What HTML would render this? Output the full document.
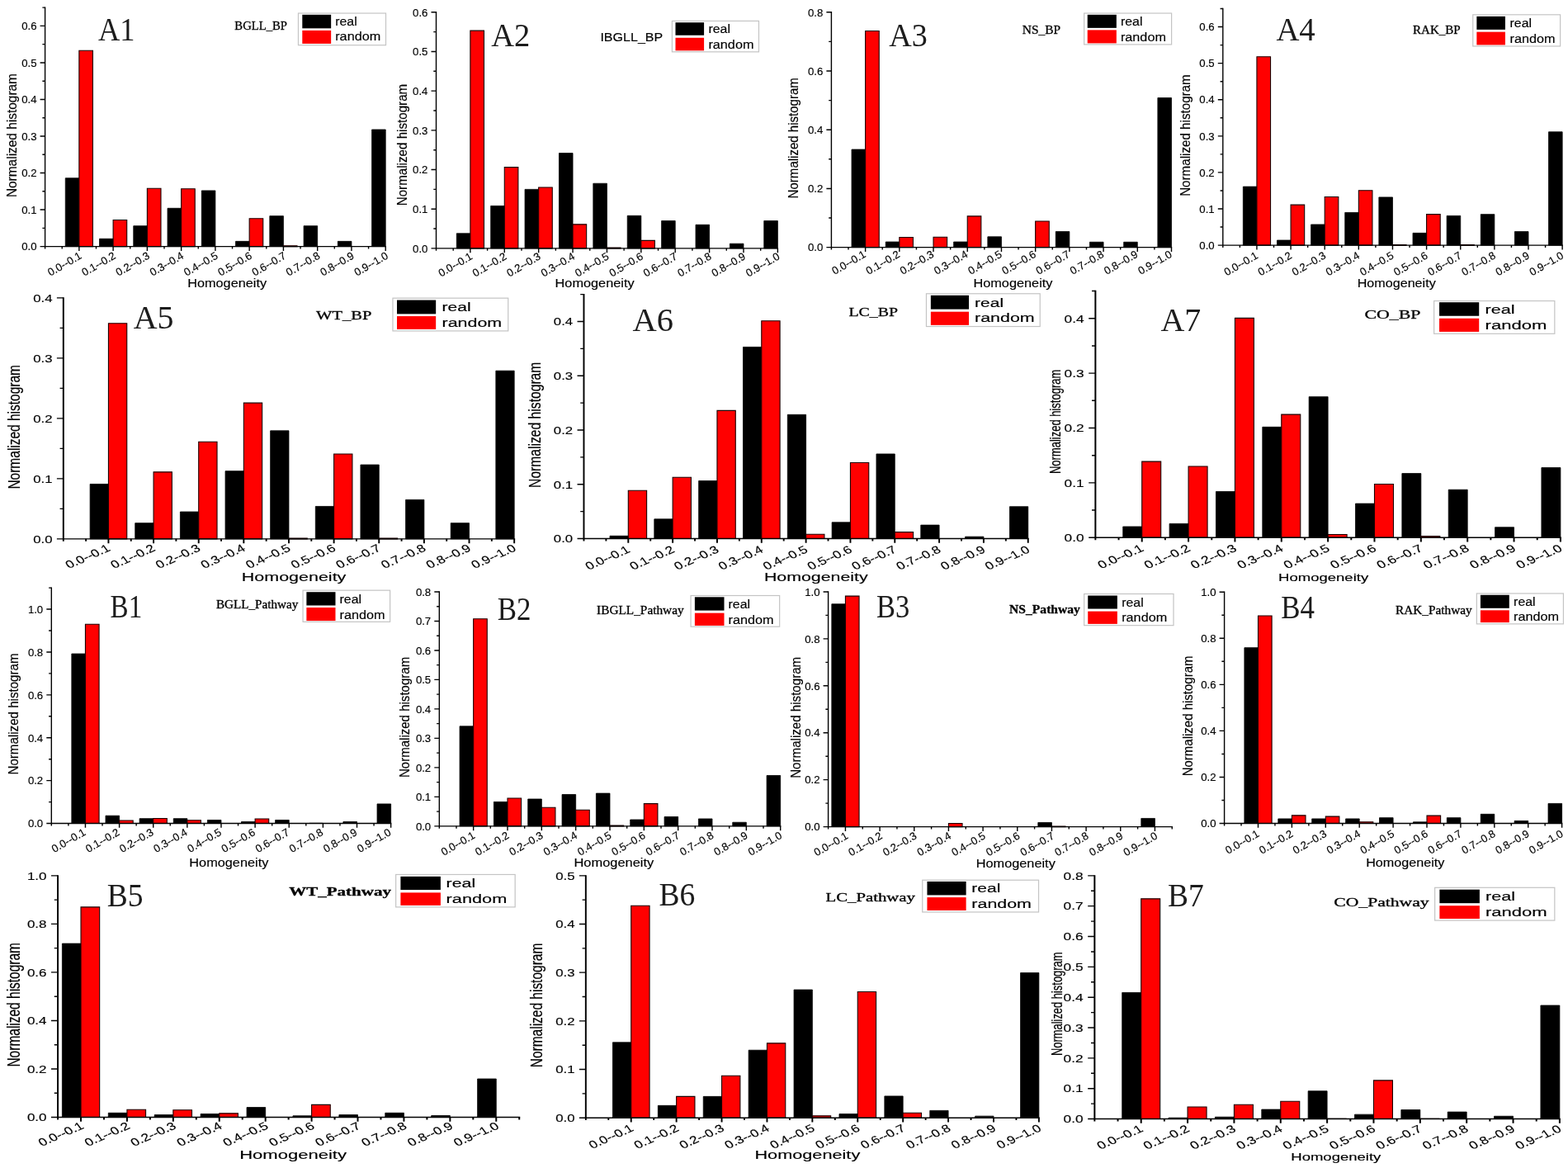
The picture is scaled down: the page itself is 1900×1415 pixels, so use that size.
<!DOCTYPE html>
<html lang="en">
<head>
<meta charset="utf-8">
<title>Normalized histograms of homogeneity</title>
<style>
html,body{margin:0;padding:0;background:#fff;}
body{width:1900px;height:1415px;overflow:hidden;}
svg{display:block;}
text{fill:#000;font-family:"Liberation Sans",sans-serif;stroke:#000;stroke-width:.15px;}
text.lb{stroke:none;fill:#1c1c1c;}
text.sf{font-family:"Liberation Serif",serif;}
text.tt{stroke:#000;stroke-width:0.3px;}
</style>
</head>
<body>
<svg width="1900" height="1415" viewBox="0 0 1900 1415">
<rect width="1900" height="1415" fill="#fff"/>
<g>
<path d="M79.26 298.6v-82.83h16.6v82.83zM120.52 298.6v-9.35h16.6v9.35zM161.78 298.6v-24.94h16.6v24.94zM203.04 298.6v-46.31h16.6v46.31zM244.3 298.6v-67.69h16.6v67.69zM285.56 298.6v-6.23h16.6v6.23zM326.82 298.6v-36.96h16.6v36.96zM368.08 298.6v-24.94h16.6v24.94zM409.34 298.6v-6.23h16.6v6.23zM450.6 298.6v-141.62h16.6v141.62z" fill="#000" stroke="#000" stroke-width="0.8"/>
<path d="M95.86 298.6v-237.36h16.6v237.36zM137.12 298.6v-32.06h16.6v32.06zM178.38 298.6v-70.36h16.6v70.36zM219.64 298.6v-69.92h16.6v69.92zM302.16 298.6v-33.85h16.6v33.85zM343.42 298.6v-0.89h16.6v0.89z" fill="#ff0000" stroke="#1a0000" stroke-width="1.1"/>
<path d="M53.9 298.6H467.9M54.6 298.6h-6M54.6 276.33h-3.2M54.6 254.07h-6M54.6 231.8h-3.2M54.6 209.53h-6M54.6 187.27h-3.2M54.6 165h-6M54.6 142.73h-3.2M54.6 120.47h-6M54.6 98.2h-3.2M54.6 75.93h-6M54.6 53.67h-3.2M54.6 31.4h-6M54.6 9.13h-3.2" fill="none" stroke="#000" stroke-width="1.4"/>
<path d="M54.6 8.43V298.6M54.6 298.6v2.9M75.23 298.6v2.9M95.86 298.6v5.3M116.49 298.6v2.9M137.12 298.6v5.3M157.75 298.6v2.9M178.38 298.6v5.3M199.01 298.6v2.9M219.64 298.6v5.3M240.27 298.6v2.9M260.9 298.6v5.3M281.53 298.6v2.9M302.16 298.6v5.3M322.79 298.6v2.9M343.42 298.6v5.3M364.05 298.6v2.9M384.68 298.6v5.3M405.31 298.6v2.9M425.94 298.6v5.3M446.57 298.6v2.9M467.2 298.6v5.3" fill="none" stroke="#000" stroke-width="1.4"/>
<text x="44.5" y="303.35" font-size="13.2" text-anchor="end">0.0</text>
<text x="44.5" y="258.82" font-size="13.2" text-anchor="end">0.1</text>
<text x="44.5" y="214.29" font-size="13.2" text-anchor="end">0.2</text>
<text x="44.5" y="169.75" font-size="13.2" text-anchor="end">0.3</text>
<text x="44.5" y="125.22" font-size="13.2" text-anchor="end">0.4</text>
<text x="44.5" y="80.69" font-size="13.2" text-anchor="end">0.5</text>
<text x="44.5" y="36.15" font-size="13.2" text-anchor="end">0.6</text>
<text transform="translate(99.86 312.4) scale(1.0 1) rotate(-30)" text-anchor="end" font-size="13">0.0--0.1</text>
<text transform="translate(141.12 312.4) scale(1.0 1) rotate(-30)" text-anchor="end" font-size="13">0.1--0.2</text>
<text transform="translate(182.38 312.4) scale(1.0 1) rotate(-30)" text-anchor="end" font-size="13">0.2--0.3</text>
<text transform="translate(223.64 312.4) scale(1.0 1) rotate(-30)" text-anchor="end" font-size="13">0.3--0.4</text>
<text transform="translate(264.9 312.4) scale(1.0 1) rotate(-30)" text-anchor="end" font-size="13">0.4--0.5</text>
<text transform="translate(306.16 312.4) scale(1.0 1) rotate(-30)" text-anchor="end" font-size="13">0.5--0.6</text>
<text transform="translate(347.42 312.4) scale(1.0 1) rotate(-30)" text-anchor="end" font-size="13">0.6--0.7</text>
<text transform="translate(388.68 312.4) scale(1.0 1) rotate(-30)" text-anchor="end" font-size="13">0.7--0.8</text>
<text transform="translate(429.94 312.4) scale(1.0 1) rotate(-30)" text-anchor="end" font-size="13">0.8--0.9</text>
<text transform="translate(471.2 312.4) scale(1.0 1) rotate(-30)" text-anchor="end" font-size="13">0.9--1.0</text>
<text transform="translate(19.7 164.07) scale(1.0 1) rotate(-90)" text-anchor="middle" textLength="150.08" lengthAdjust="spacingAndGlyphs" font-size="15.8">Normalized histogram</text>
<text x="227.27" y="347.73" font-size="14.77" textLength="95.77" lengthAdjust="spacingAndGlyphs">Homogeneity</text>
<rect x="361.46" y="16.03" width="106.07" height="38.66" fill="#fff" stroke="#c4c4c4" stroke-width="1.2"/>
<rect x="366.3" y="17.81" width="34.85" height="16.53" fill="#000"/>
<rect x="366.3" y="36.88" width="34.85" height="16.03" fill="#ff0000"/>
<text x="406.23" y="30.9" font-size="15.2" textLength="26.5" lengthAdjust="spacingAndGlyphs">real</text>
<text x="406.23" y="49.47" font-size="15.2" textLength="55" lengthAdjust="spacingAndGlyphs">random</text>
<text x="284.39" y="35.88" font-size="14.5" class="sf tt" textLength="63.59" lengthAdjust="spacingAndGlyphs">BGLL_BP</text>
<text x="118.9" y="49" font-size="41" class="sf lb" textLength="44.5" lengthAdjust="spacingAndGlyphs">A1</text>
</g>
<g>
<path d="M553.29 300.92v-18.12h16.6v18.12zM594.68 300.92v-51.51h16.6v51.51zM636.06 300.92v-71.54h16.6v71.54zM677.45 300.92v-115.42h16.6v115.42zM718.84 300.92v-78.7h16.6v78.7zM760.22 300.92v-39.59h16.6v39.59zM801.61 300.92v-33.39h16.6v33.39zM843 300.92v-28.62h16.6v28.62zM884.38 300.92v-5.72h16.6v5.72zM925.77 300.92v-33.39h16.6v33.39z" fill="#000" stroke="#000" stroke-width="0.8"/>
<path d="M569.89 300.92v-263.75h16.6v263.75zM611.28 300.92v-98.25h16.6v98.25zM652.66 300.92v-73.93h16.6v73.93zM694.05 300.92v-29.09h16.6v29.09zM735.44 300.92v-0.95h16.6v0.95zM776.82 300.92v-9.54h16.6v9.54z" fill="#ff0000" stroke="#1a0000" stroke-width="1.1"/>
<path d="M527.81 300.92H943.07M528.51 300.92h-6M528.51 277.07h-3.2M528.51 253.23h-6M528.51 229.38h-3.2M528.51 205.53h-6M528.51 181.69h-3.2M528.51 157.84h-6M528.51 133.99h-3.2M528.51 110.14h-6M528.51 86.3h-3.2M528.51 62.45h-6M528.51 38.6h-3.2M528.51 14.75h-6" fill="none" stroke="#000" stroke-width="1.4"/>
<path d="M528.51 14.05V300.92M528.51 300.92v2.9M549.2 300.92v2.9M569.89 300.92v5.3M590.59 300.92v2.9M611.28 300.92v5.3M631.97 300.92v2.9M652.66 300.92v5.3M673.36 300.92v2.9M694.05 300.92v5.3M714.74 300.92v2.9M735.44 300.92v5.3M756.13 300.92v2.9M776.82 300.92v5.3M797.52 300.92v2.9M818.21 300.92v5.3M838.9 300.92v2.9M859.6 300.92v5.3M880.29 300.92v2.9M900.98 300.92v5.3M921.68 300.92v2.9M942.37 300.92v5.3" fill="none" stroke="#000" stroke-width="1.4"/>
<text x="518.41" y="305.67" font-size="13.2" text-anchor="end">0.0</text>
<text x="518.41" y="257.98" font-size="13.2" text-anchor="end">0.1</text>
<text x="518.41" y="210.28" font-size="13.2" text-anchor="end">0.2</text>
<text x="518.41" y="162.59" font-size="13.2" text-anchor="end">0.3</text>
<text x="518.41" y="114.9" font-size="13.2" text-anchor="end">0.4</text>
<text x="518.41" y="67.2" font-size="13.2" text-anchor="end">0.5</text>
<text x="518.41" y="19.51" font-size="13.2" text-anchor="end">0.6</text>
<text transform="translate(573.29 313.22) scale(1.0 1) rotate(-30)" text-anchor="end" font-size="13">0.0--0.1</text>
<text transform="translate(614.68 313.22) scale(1.0 1) rotate(-30)" text-anchor="end" font-size="13">0.1--0.2</text>
<text transform="translate(656.06 313.22) scale(1.0 1) rotate(-30)" text-anchor="end" font-size="13">0.2--0.3</text>
<text transform="translate(697.45 313.22) scale(1.0 1) rotate(-30)" text-anchor="end" font-size="13">0.3--0.4</text>
<text transform="translate(738.84 313.22) scale(1.0 1) rotate(-30)" text-anchor="end" font-size="13">0.4--0.5</text>
<text transform="translate(780.22 313.22) scale(1.0 1) rotate(-30)" text-anchor="end" font-size="13">0.5--0.6</text>
<text transform="translate(821.61 313.22) scale(1.0 1) rotate(-30)" text-anchor="end" font-size="13">0.6--0.7</text>
<text transform="translate(863 313.22) scale(1.0 1) rotate(-30)" text-anchor="end" font-size="13">0.7--0.8</text>
<text transform="translate(904.38 313.22) scale(1.0 1) rotate(-30)" text-anchor="end" font-size="13">0.8--0.9</text>
<text transform="translate(945.77 313.22) scale(1.0 1) rotate(-30)" text-anchor="end" font-size="13">0.9--1.0</text>
<text transform="translate(493 175.52) scale(1.0 1) rotate(-90)" text-anchor="middle" textLength="147.54" lengthAdjust="spacingAndGlyphs" font-size="15.8">Normalized histogram</text>
<text x="672.6" y="347.72" font-size="14.77" textLength="96.03" lengthAdjust="spacingAndGlyphs">Homogeneity</text>
<rect x="814.42" y="25.44" width="105.06" height="37.39" fill="#fff" stroke="#c4c4c4" stroke-width="1.2"/>
<rect x="818.49" y="27.22" width="34.59" height="15.52" fill="#000"/>
<rect x="818.49" y="45.79" width="34.59" height="15.52" fill="#ff0000"/>
<text x="858.43" y="39.79" font-size="15.2" textLength="26.5" lengthAdjust="spacingAndGlyphs">real</text>
<text x="858.43" y="58.61" font-size="15.2" textLength="55" lengthAdjust="spacingAndGlyphs">random</text>
<text x="727.42" y="50.37" font-size="15.5" textLength="75.8" lengthAdjust="spacingAndGlyphs">IBGLL_BP</text>
<text x="595.15" y="55.85" font-size="41" class="sf lb" textLength="47.06" lengthAdjust="spacingAndGlyphs">A2</text>
</g>
<g>
<path d="M1032.02 299.65v-118.59h16.6v118.59zM1073.23 299.65v-6.62h16.6v6.62zM1155.64 299.65v-6.62h16.6v6.62zM1196.85 299.65v-12.82h16.6v12.82zM1279.27 299.65v-19.09h16.6v19.09zM1320.47 299.65v-6.41h16.6v6.41zM1361.68 299.65v-6.41h16.6v6.41zM1402.89 299.65v-181.12h16.6v181.12z" fill="#000" stroke="#000" stroke-width="0.8"/>
<path d="M1048.62 299.65v-262.1h16.6v262.1zM1089.83 299.65v-12.11h16.6v12.11zM1131.03 299.65v-12.46h16.6v12.46zM1172.24 299.65v-37.75h16.6v37.75zM1254.66 299.65v-31.69h16.6v31.69z" fill="#ff0000" stroke="#1a0000" stroke-width="1.1"/>
<path d="M1006.71 299.65H1420.19M1007.41 299.65h-6M1007.41 264.04h-3.2M1007.41 228.43h-6M1007.41 192.81h-3.2M1007.41 157.2h-6M1007.41 121.59h-3.2M1007.41 85.98h-6M1007.41 50.37h-3.2M1007.41 14.75h-6" fill="none" stroke="#000" stroke-width="1.4"/>
<path d="M1007.41 14.05V299.65M1007.41 299.65v2.9M1028.01 299.65v2.9M1048.62 299.65v5.3M1069.22 299.65v2.9M1089.83 299.65v5.3M1110.43 299.65v2.9M1131.03 299.65v5.3M1151.64 299.65v2.9M1172.24 299.65v5.3M1192.85 299.65v2.9M1213.45 299.65v5.3M1234.05 299.65v2.9M1254.66 299.65v5.3M1275.26 299.65v2.9M1295.87 299.65v5.3M1316.47 299.65v2.9M1337.07 299.65v5.3M1357.68 299.65v2.9M1378.28 299.65v5.3M1398.89 299.65v2.9M1419.49 299.65v5.3" fill="none" stroke="#000" stroke-width="1.4"/>
<text x="997.31" y="304.4" font-size="13.2" text-anchor="end">0.0</text>
<text x="997.31" y="233.18" font-size="13.2" text-anchor="end">0.2</text>
<text x="997.31" y="161.95" font-size="13.2" text-anchor="end">0.4</text>
<text x="997.31" y="90.73" font-size="13.2" text-anchor="end">0.6</text>
<text x="997.31" y="19.51" font-size="13.2" text-anchor="end">0.8</text>
<text transform="translate(1050.12 310.65) scale(1.0 1) rotate(-30)" text-anchor="end" font-size="13">0.0--0.1</text>
<text transform="translate(1091.33 310.65) scale(1.0 1) rotate(-30)" text-anchor="end" font-size="13">0.1--0.2</text>
<text transform="translate(1132.53 310.65) scale(1.0 1) rotate(-30)" text-anchor="end" font-size="13">0.2--0.3</text>
<text transform="translate(1173.74 310.65) scale(1.0 1) rotate(-30)" text-anchor="end" font-size="13">0.3--0.4</text>
<text transform="translate(1214.95 310.65) scale(1.0 1) rotate(-30)" text-anchor="end" font-size="13">0.4--0.5</text>
<text transform="translate(1256.16 310.65) scale(1.0 1) rotate(-30)" text-anchor="end" font-size="13">0.5--0.6</text>
<text transform="translate(1297.37 310.65) scale(1.0 1) rotate(-30)" text-anchor="end" font-size="13">0.6--0.7</text>
<text transform="translate(1338.57 310.65) scale(1.0 1) rotate(-30)" text-anchor="end" font-size="13">0.7--0.8</text>
<text transform="translate(1379.78 310.65) scale(1.0 1) rotate(-30)" text-anchor="end" font-size="13">0.8--0.9</text>
<text transform="translate(1420.99 310.65) scale(1.0 1) rotate(-30)" text-anchor="end" font-size="13">0.9--1.0</text>
<text transform="translate(967.32 167.25) scale(1.0 1) rotate(-90)" text-anchor="middle" textLength="146.26" lengthAdjust="spacingAndGlyphs" font-size="15.8">Normalized histogram</text>
<text x="1179.48" y="348.03" font-size="14.77" textLength="96.03" lengthAdjust="spacingAndGlyphs">Homogeneity</text>
<rect x="1313.67" y="16.03" width="105.93" height="37.9" fill="#fff" stroke="#c4c4c4" stroke-width="1.2"/>
<rect x="1317.74" y="17.81" width="35.1" height="16.03" fill="#000"/>
<rect x="1317.74" y="36.38" width="35.1" height="16.03" fill="#ff0000"/>
<text x="1357.93" y="30.83" font-size="15.2" textLength="26.5" lengthAdjust="spacingAndGlyphs">real</text>
<text x="1357.93" y="49.66" font-size="15.2" textLength="55" lengthAdjust="spacingAndGlyphs">random</text>
<text x="1238.89" y="41.46" font-size="14.5" class="sf tt" textLength="46.3" lengthAdjust="spacingAndGlyphs">NS_BP</text>
<text x="1077.36" y="56.22" font-size="41" class="sf lb" textLength="46.55" lengthAdjust="spacingAndGlyphs">A3</text>
</g>
<g>
<path d="M1506.34 297.11v-70.99h16.6v70.99zM1547.48 297.11v-6.08h16.6v6.08zM1588.61 297.11v-25.13h16.6v25.13zM1629.74 297.11v-39.68h16.6v39.68zM1670.87 297.11v-58.2h16.6v58.2zM1712 297.11v-14.77h16.6v14.77zM1753.14 297.11v-35.71h16.6v35.71zM1794.27 297.11v-37.48h16.6v37.48zM1835.4 297.11v-16.53h16.6v16.53zM1876.53 297.11v-137.34h16.6v137.34z" fill="#000" stroke="#000" stroke-width="0.8"/>
<path d="M1522.94 297.11v-228.39h16.6v228.39zM1564.08 297.11v-48.94h16.6v48.94zM1605.21 297.11v-58.64h16.6v58.64zM1646.34 297.11v-66.36h16.6v66.36zM1687.47 297.11v-0.44h16.6v0.44zM1728.6 297.11v-37.48h16.6v37.48zM1769.74 297.11v-0.44h16.6v0.44z" fill="#ff0000" stroke="#1a0000" stroke-width="1.1"/>
<path d="M1481.11 297.11H1893.83M1481.81 297.11h-6M1481.81 275.06h-3.2M1481.81 253.02h-6M1481.81 230.97h-3.2M1481.81 208.92h-6M1481.81 186.88h-3.2M1481.81 164.83h-6M1481.81 142.79h-3.2M1481.81 120.74h-6M1481.81 98.7h-3.2M1481.81 76.65h-6M1481.81 54.61h-3.2M1481.81 32.56h-6M1481.81 10.51h-3.2" fill="none" stroke="#000" stroke-width="1.4"/>
<path d="M1481.81 9.81V297.11M1481.81 297.11v2.9M1502.38 297.11v2.9M1522.94 297.11v5.3M1543.51 297.11v2.9M1564.08 297.11v5.3M1584.64 297.11v2.9M1605.21 297.11v5.3M1625.77 297.11v2.9M1646.34 297.11v5.3M1666.91 297.11v2.9M1687.47 297.11v5.3M1708.04 297.11v2.9M1728.6 297.11v5.3M1749.17 297.11v2.9M1769.74 297.11v5.3M1790.3 297.11v2.9M1810.87 297.11v5.3M1831.43 297.11v2.9M1852 297.11v5.3M1872.57 297.11v2.9M1893.13 297.11v5.3" fill="none" stroke="#000" stroke-width="1.4"/>
<text x="1471.71" y="301.86" font-size="13.2" text-anchor="end">0.0</text>
<text x="1471.71" y="257.77" font-size="13.2" text-anchor="end">0.1</text>
<text x="1471.71" y="213.68" font-size="13.2" text-anchor="end">0.2</text>
<text x="1471.71" y="169.59" font-size="13.2" text-anchor="end">0.3</text>
<text x="1471.71" y="125.49" font-size="13.2" text-anchor="end">0.4</text>
<text x="1471.71" y="81.4" font-size="13.2" text-anchor="end">0.5</text>
<text x="1471.71" y="37.31" font-size="13.2" text-anchor="end">0.6</text>
<text transform="translate(1525.24 312.21) scale(1.0 1) rotate(-30)" text-anchor="end" font-size="13">0.0--0.1</text>
<text transform="translate(1566.38 312.21) scale(1.0 1) rotate(-30)" text-anchor="end" font-size="13">0.1--0.2</text>
<text transform="translate(1607.51 312.21) scale(1.0 1) rotate(-30)" text-anchor="end" font-size="13">0.2--0.3</text>
<text transform="translate(1648.64 312.21) scale(1.0 1) rotate(-30)" text-anchor="end" font-size="13">0.3--0.4</text>
<text transform="translate(1689.77 312.21) scale(1.0 1) rotate(-30)" text-anchor="end" font-size="13">0.4--0.5</text>
<text transform="translate(1730.9 312.21) scale(1.0 1) rotate(-30)" text-anchor="end" font-size="13">0.5--0.6</text>
<text transform="translate(1772.04 312.21) scale(1.0 1) rotate(-30)" text-anchor="end" font-size="13">0.6--0.7</text>
<text transform="translate(1813.17 312.21) scale(1.0 1) rotate(-30)" text-anchor="end" font-size="13">0.7--0.8</text>
<text transform="translate(1854.3 312.21) scale(1.0 1) rotate(-30)" text-anchor="end" font-size="13">0.8--0.9</text>
<text transform="translate(1895.43 312.21) scale(1.0 1) rotate(-30)" text-anchor="end" font-size="13">0.9--1.0</text>
<text transform="translate(1442.23 164.07) scale(1.0 1) rotate(-90)" text-anchor="middle" textLength="147.54" lengthAdjust="spacingAndGlyphs" font-size="15.8">Normalized histogram</text>
<text x="1644.73" y="348.13" font-size="14.77" textLength="95.01" lengthAdjust="spacingAndGlyphs">Homogeneity</text>
<rect x="1784.77" y="17.81" width="105.82" height="38.16" fill="#fff" stroke="#c4c4c4" stroke-width="1.2"/>
<rect x="1789.35" y="19.84" width="34.59" height="16.03" fill="#000"/>
<rect x="1789.35" y="38.66" width="34.59" height="15.77" fill="#ff0000"/>
<text x="1829.54" y="32.87" font-size="15.2" textLength="26.5" lengthAdjust="spacingAndGlyphs">real</text>
<text x="1829.54" y="51.69" font-size="15.2" textLength="55" lengthAdjust="spacingAndGlyphs">random</text>
<text x="1712.02" y="41.46" font-size="14.5" class="sf tt" textLength="57.74" lengthAdjust="spacingAndGlyphs">RAK_BP</text>
<text x="1546.42" y="49.09" font-size="41" class="sf lb" textLength="47.31" lengthAdjust="spacingAndGlyphs">A4</text>
</g>
<g>
<path d="M109.13 652.87v-66.44h22.31v66.44zM163.76 652.87v-19.2h22.31v19.2zM218.4 652.87v-32.85h22.31v32.85zM273.04 652.87v-82.21h22.31v82.21zM327.67 652.87v-131.05h22.31v131.05zM382.31 652.87v-39.43h22.31v39.43zM436.94 652.87v-89.8h22.31v89.8zM491.58 652.87v-47.46h22.31v47.46zM546.21 652.87v-19.2h22.31v19.2zM600.85 652.87v-203.7h22.31v203.7z" fill="#000" stroke="#000" stroke-width="0.8"/>
<path d="M131.44 652.87v-261.16h22.31v261.16zM186.07 652.87v-81.04h22.31v81.04zM240.71 652.87v-117.55h22.31v117.55zM295.34 652.87v-164.71h22.31v164.71zM349.98 652.87v-0.73h22.31v0.73zM404.61 652.87v-102.94h22.31v102.94zM459.25 652.87v-0.73h22.31v0.73z" fill="#ff0000" stroke="#1a0000" stroke-width="1.1"/>
<path d="M75.83 652.87H624.13M76.8 652.87h-7.92M76.8 616.37h-4.22M76.8 579.86h-7.92M76.8 543.36h-4.22M76.8 506.85h-7.92M76.8 470.35h-4.22M76.8 433.84h-7.92M76.8 397.34h-4.22M76.8 360.83h-7.92" fill="none" stroke="#000" stroke-width="1.4"/>
<path d="M76.8 360.13V652.87M76.8 652.87v2.9M104.12 652.87v2.9M131.44 652.87v5.3M158.75 652.87v2.9M186.07 652.87v5.3M213.39 652.87v2.9M240.71 652.87v5.3M268.03 652.87v2.9M295.34 652.87v5.3M322.66 652.87v2.9M349.98 652.87v5.3M377.3 652.87v2.9M404.61 652.87v5.3M431.93 652.87v2.9M459.25 652.87v5.3M486.57 652.87v2.9M513.89 652.87v5.3M541.2 652.87v2.9M568.52 652.87v5.3M595.84 652.87v2.9M623.16 652.87v5.3" fill="none" stroke="#000" stroke-width="1.94"/>
<text transform="translate(63.47 657.63) scale(1.27 1)" text-anchor="end" font-size="13.2">0.0</text>
<text transform="translate(63.47 584.62) scale(1.27 1)" text-anchor="end" font-size="13.2">0.1</text>
<text transform="translate(63.47 511.6) scale(1.27 1)" text-anchor="end" font-size="13.2">0.2</text>
<text transform="translate(63.47 438.59) scale(1.27 1)" text-anchor="end" font-size="13.2">0.3</text>
<text transform="translate(63.47 365.58) scale(1.27 1)" text-anchor="end" font-size="13.2">0.4</text>
<text transform="translate(134.74 666.67) scale(1.32 1) rotate(-30)" text-anchor="end" font-size="13">0.0--0.1</text>
<text transform="translate(189.37 666.67) scale(1.32 1) rotate(-30)" text-anchor="end" font-size="13">0.1--0.2</text>
<text transform="translate(244.01 666.67) scale(1.32 1) rotate(-30)" text-anchor="end" font-size="13">0.2--0.3</text>
<text transform="translate(298.64 666.67) scale(1.32 1) rotate(-30)" text-anchor="end" font-size="13">0.3--0.4</text>
<text transform="translate(353.28 666.67) scale(1.32 1) rotate(-30)" text-anchor="end" font-size="13">0.4--0.5</text>
<text transform="translate(407.91 666.67) scale(1.32 1) rotate(-30)" text-anchor="end" font-size="13">0.5--0.6</text>
<text transform="translate(462.55 666.67) scale(1.32 1) rotate(-30)" text-anchor="end" font-size="13">0.6--0.7</text>
<text transform="translate(517.19 666.67) scale(1.32 1) rotate(-30)" text-anchor="end" font-size="13">0.7--0.8</text>
<text transform="translate(571.82 666.67) scale(1.32 1) rotate(-30)" text-anchor="end" font-size="13">0.8--0.9</text>
<text transform="translate(626.46 666.67) scale(1.32 1) rotate(-30)" text-anchor="end" font-size="13">0.9--1.0</text>
<text transform="translate(23.57 517.29) scale(1.32 1) rotate(-90)" text-anchor="middle" textLength="150.57" lengthAdjust="spacingAndGlyphs" font-size="15.8">Normalized histogram</text>
<text x="292.88" y="703.96" font-size="14.77" textLength="126.48" lengthAdjust="spacingAndGlyphs">Homogeneity</text>
<rect x="475.96" y="361.17" width="139.79" height="39.75" fill="#fff" stroke="#c4c4c4" stroke-width="1.2"/>
<rect x="481.01" y="363.53" width="47.16" height="16.84" fill="#000"/>
<rect x="481.01" y="383.06" width="47.16" height="15.83" fill="#ff0000"/>
<text x="535.58" y="377.11" font-size="15.2" textLength="34.98" lengthAdjust="spacingAndGlyphs">real</text>
<text x="535.58" y="395.64" font-size="15.2" textLength="72.6" lengthAdjust="spacingAndGlyphs">random</text>
<text x="382.99" y="387.28" font-size="15" class="sf tt" textLength="67.37" lengthAdjust="spacingAndGlyphs">WT_BP</text>
<text x="161.68" y="397.88" font-size="41" class="sf lb" textLength="48.84" lengthAdjust="spacingAndGlyphs">A5</text>
</g>
<g>
<path d="M738.99 652.54v-3.29h22.31v3.29zM792.82 652.54v-23.68h22.31v23.68zM846.65 652.54v-70.04h22.31v70.04zM900.48 652.54v-232.16h22.31v232.16zM954.3 652.54v-150.22h22.31v150.22zM1008.13 652.54v-19.73h22.31v19.73zM1061.96 652.54v-102.6h22.31v102.6zM1115.78 652.54v-16.44h22.31v16.44zM1169.61 652.54v-2.37h22.31v2.37zM1223.44 652.54v-38.8h22.31v38.8z" fill="#000" stroke="#000" stroke-width="0.8"/>
<path d="M761.3 652.54v-58.27h22.31v58.27zM815.13 652.54v-74.32h22.31v74.32zM868.96 652.54v-155.21h22.31v155.21zM922.78 652.54v-263.73h22.31v263.73zM976.61 652.54v-5.26h22.31v5.26zM1030.44 652.54v-92.08h22.31v92.08zM1084.27 652.54v-7.89h22.31v7.89z" fill="#ff0000" stroke="#1a0000" stroke-width="1.1"/>
<path d="M706.5 652.54H1246.72M707.47 652.54h-7.92M707.47 619.65h-4.22M707.47 586.77h-7.92M707.47 553.88h-4.22M707.47 521h-7.92M707.47 488.12h-4.22M707.47 455.23h-7.92M707.47 422.35h-4.22M707.47 389.46h-7.92M707.47 356.58h-4.22" fill="none" stroke="#000" stroke-width="1.4"/>
<path d="M707.47 355.88V652.54M707.47 652.54v2.9M734.39 652.54v2.9M761.3 652.54v5.3M788.21 652.54v2.9M815.13 652.54v5.3M842.04 652.54v2.9M868.96 652.54v5.3M895.87 652.54v2.9M922.78 652.54v5.3M949.7 652.54v2.9M976.61 652.54v5.3M1003.52 652.54v2.9M1030.44 652.54v5.3M1057.35 652.54v2.9M1084.27 652.54v5.3M1111.18 652.54v2.9M1138.09 652.54v5.3M1165.01 652.54v2.9M1191.92 652.54v5.3M1218.83 652.54v2.9M1245.75 652.54v5.3" fill="none" stroke="#000" stroke-width="1.94"/>
<text transform="translate(694.14 657.29) scale(1.27 1)" text-anchor="end" font-size="13.2">0.0</text>
<text transform="translate(694.14 591.52) scale(1.27 1)" text-anchor="end" font-size="13.2">0.1</text>
<text transform="translate(694.14 525.75) scale(1.27 1)" text-anchor="end" font-size="13.2">0.2</text>
<text transform="translate(694.14 459.98) scale(1.27 1)" text-anchor="end" font-size="13.2">0.3</text>
<text transform="translate(694.14 394.22) scale(1.27 1)" text-anchor="end" font-size="13.2">0.4</text>
<text transform="translate(764.6 668.34) scale(1.32 1) rotate(-30)" text-anchor="end" font-size="13">0.0--0.1</text>
<text transform="translate(818.43 668.34) scale(1.32 1) rotate(-30)" text-anchor="end" font-size="13">0.1--0.2</text>
<text transform="translate(872.26 668.34) scale(1.32 1) rotate(-30)" text-anchor="end" font-size="13">0.2--0.3</text>
<text transform="translate(926.08 668.34) scale(1.32 1) rotate(-30)" text-anchor="end" font-size="13">0.3--0.4</text>
<text transform="translate(979.91 668.34) scale(1.32 1) rotate(-30)" text-anchor="end" font-size="13">0.4--0.5</text>
<text transform="translate(1033.74 668.34) scale(1.32 1) rotate(-30)" text-anchor="end" font-size="13">0.5--0.6</text>
<text transform="translate(1087.57 668.34) scale(1.32 1) rotate(-30)" text-anchor="end" font-size="13">0.6--0.7</text>
<text transform="translate(1141.39 668.34) scale(1.32 1) rotate(-30)" text-anchor="end" font-size="13">0.7--0.8</text>
<text transform="translate(1195.22 668.34) scale(1.32 1) rotate(-30)" text-anchor="end" font-size="13">0.8--0.9</text>
<text transform="translate(1249.05 668.34) scale(1.32 1) rotate(-30)" text-anchor="end" font-size="13">0.9--1.0</text>
<text transform="translate(654.92 514.77) scale(1.32 1) rotate(-90)" text-anchor="middle" textLength="152.25" lengthAdjust="spacingAndGlyphs" font-size="15.8">Normalized histogram</text>
<text x="925.91" y="703.74" font-size="14.77" textLength="125.81" lengthAdjust="spacingAndGlyphs">Homogeneity</text>
<rect x="1122.46" y="355.78" width="137.77" height="39.75" fill="#fff" stroke="#c4c4c4" stroke-width="1.2"/>
<rect x="1127.85" y="357.8" width="46.15" height="16.84" fill="#000"/>
<rect x="1127.85" y="377.67" width="46.15" height="16.17" fill="#ff0000"/>
<text x="1181.07" y="371.75" font-size="15.2" textLength="34.98" lengthAdjust="spacingAndGlyphs">real</text>
<text x="1181.07" y="390.27" font-size="15.2" textLength="72.6" lengthAdjust="spacingAndGlyphs">random</text>
<text x="1028.48" y="383.06" font-size="15" class="sf tt" textLength="59.62" lengthAdjust="spacingAndGlyphs">LC_BP</text>
<text x="766.42" y="401.25" font-size="41" class="sf lb" textLength="49.52" lengthAdjust="spacingAndGlyphs">A6</text>
</g>
<g>
<path d="M1360.74 651.25v-13.27h22.98v13.27zM1417.09 651.25v-16.86h22.98v16.86zM1473.45 651.25v-55.75h22.98v55.75zM1529.8 651.25v-133.94h22.98v133.94zM1586.15 651.25v-170.58h22.98v170.58zM1642.51 651.25v-41.15h22.98v41.15zM1698.86 651.25v-77.66h22.98v77.66zM1755.21 651.25v-58.01h22.98v58.01zM1811.57 651.25v-12.48h22.98v12.48zM1867.92 651.25v-84.69h22.98v84.69z" fill="#000" stroke="#000" stroke-width="0.8"/>
<path d="M1383.72 651.25v-92.13h22.98v92.13zM1440.08 651.25v-86.29h22.98v86.29zM1496.43 651.25v-265.89h22.98v265.89zM1552.78 651.25v-149.14h22.98v149.14zM1609.14 651.25v-3.72h22.98v3.72zM1665.49 651.25v-64.78h22.98v64.78zM1721.84 651.25v-1.66h22.98v1.66z" fill="#ff0000" stroke="#1a0000" stroke-width="1.1"/>
<path d="M1326.37 651.25H1891.9M1327.37 651.25h-8.16M1327.37 618.07h-4.35M1327.37 584.88h-8.16M1327.37 551.69h-4.35M1327.37 518.51h-8.16M1327.37 485.32h-4.35M1327.37 452.13h-8.16M1327.37 418.94h-4.35M1327.37 385.76h-8.16M1327.37 352.57h-4.35" fill="none" stroke="#000" stroke-width="1.4"/>
<path d="M1327.37 351.87V651.25M1327.37 651.25v2.9M1355.55 651.25v2.9M1383.72 651.25v5.3M1411.9 651.25v2.9M1440.08 651.25v5.3M1468.25 651.25v2.9M1496.43 651.25v5.3M1524.61 651.25v2.9M1552.78 651.25v5.3M1580.96 651.25v2.9M1609.14 651.25v5.3M1637.31 651.25v2.9M1665.49 651.25v5.3M1693.67 651.25v2.9M1721.84 651.25v5.3M1750.02 651.25v2.9M1778.2 651.25v5.3M1806.37 651.25v2.9M1834.55 651.25v5.3M1862.73 651.25v2.9M1890.91 651.25v5.3" fill="none" stroke="#000" stroke-width="2"/>
<text transform="translate(1313.63 656) scale(1.31 1)" text-anchor="end" font-size="13.2">0.0</text>
<text transform="translate(1313.63 589.63) scale(1.31 1)" text-anchor="end" font-size="13.2">0.1</text>
<text transform="translate(1313.63 523.26) scale(1.31 1)" text-anchor="end" font-size="13.2">0.2</text>
<text transform="translate(1313.63 456.88) scale(1.31 1)" text-anchor="end" font-size="13.2">0.3</text>
<text transform="translate(1313.63 390.51) scale(1.31 1)" text-anchor="end" font-size="13.2">0.4</text>
<text transform="translate(1387.12 666.85) scale(1.36 1) rotate(-30)" text-anchor="end" font-size="13">0.0--0.1</text>
<text transform="translate(1443.48 666.85) scale(1.36 1) rotate(-30)" text-anchor="end" font-size="13">0.1--0.2</text>
<text transform="translate(1499.83 666.85) scale(1.36 1) rotate(-30)" text-anchor="end" font-size="13">0.2--0.3</text>
<text transform="translate(1556.18 666.85) scale(1.36 1) rotate(-30)" text-anchor="end" font-size="13">0.3--0.4</text>
<text transform="translate(1612.54 666.85) scale(1.36 1) rotate(-30)" text-anchor="end" font-size="13">0.4--0.5</text>
<text transform="translate(1668.89 666.85) scale(1.36 1) rotate(-30)" text-anchor="end" font-size="13">0.5--0.6</text>
<text transform="translate(1725.24 666.85) scale(1.36 1) rotate(-30)" text-anchor="end" font-size="13">0.6--0.7</text>
<text transform="translate(1781.6 666.85) scale(1.36 1) rotate(-30)" text-anchor="end" font-size="13">0.7--0.8</text>
<text transform="translate(1837.95 666.85) scale(1.36 1) rotate(-30)" text-anchor="end" font-size="13">0.8--0.9</text>
<text transform="translate(1894.31 666.85) scale(1.36 1) rotate(-30)" text-anchor="end" font-size="13">0.9--1.0</text>
<text transform="translate(1285.03 510.89) scale(1.36 1) rotate(-90)" text-anchor="middle" textLength="126.32" lengthAdjust="spacingAndGlyphs" font-size="13">Normalized histogram</text>
<text x="1549.13" y="704.24" font-size="12.62" textLength="109.02" lengthAdjust="spacingAndGlyphs">Homogeneity</text>
<rect x="1737.64" y="364.54" width="146.19" height="39.75" fill="#fff" stroke="#c4c4c4" stroke-width="1.2"/>
<rect x="1744.04" y="366.22" width="48.17" height="16.51" fill="#000"/>
<rect x="1744.04" y="385.76" width="48.17" height="16.17" fill="#ff0000"/>
<text x="1799.62" y="380.17" font-size="15.2" textLength="36.04" lengthAdjust="spacingAndGlyphs">real</text>
<text x="1799.62" y="398.69" font-size="15.2" textLength="74.8" lengthAdjust="spacingAndGlyphs">random</text>
<text x="1653.43" y="386.09" font-size="15" class="sf tt" textLength="68.04" lengthAdjust="spacingAndGlyphs">CO_BP</text>
<text x="1406.53" y="401.25" font-size="41" class="sf lb" textLength="48.84" lengthAdjust="spacingAndGlyphs">A7</text>
</g>
<g>
<path d="M86.85 997.53v-205.49h16.6v205.49zM127.99 997.53v-9.34h16.6v9.34zM169.12 997.53v-5.86h16.6v5.86zM210.25 997.53v-5.86h16.6v5.86zM251.38 997.53v-4.07h16.6v4.07zM292.51 997.53v-2.08h16.6v2.08zM333.64 997.53v-4.07h16.6v4.07zM374.78 997.53v-0.26h16.6v0.26zM415.91 997.53v-2.08h16.6v2.08zM457.04 997.53v-23.61h16.6v23.61z" fill="#000" stroke="#000" stroke-width="0.8"/>
<path d="M103.45 997.53v-241.22h16.6v241.22zM144.59 997.53v-3.55h16.6v3.55zM185.72 997.53v-6.1h16.6v6.1zM226.85 997.53v-3.81h16.6v3.81zM309.11 997.53v-5.6h16.6v5.6z" fill="#ff0000" stroke="#1a0000" stroke-width="1.1"/>
<path d="M61.62 997.53H474.34M62.32 997.53h-6M62.32 971.58h-3.2M62.32 945.64h-6M62.32 919.69h-3.2M62.32 893.74h-6M62.32 867.8h-3.2M62.32 841.85h-6M62.32 815.91h-3.2M62.32 789.96h-6M62.32 764.01h-3.2M62.32 738.07h-6M62.32 712.12h-3.2" fill="none" stroke="#000" stroke-width="1.4"/>
<path d="M62.32 711.42V997.53M62.32 997.53v2.9M82.89 997.53v2.9M103.45 997.53v5.3M124.02 997.53v2.9M144.59 997.53v5.3M165.15 997.53v2.9M185.72 997.53v5.3M206.28 997.53v2.9M226.85 997.53v5.3M247.41 997.53v2.9M267.98 997.53v5.3M288.55 997.53v2.9M309.11 997.53v5.3M329.68 997.53v2.9M350.24 997.53v5.3M370.81 997.53v2.9M391.38 997.53v5.3M411.94 997.53v2.9M432.51 997.53v5.3M453.07 997.53v2.9M473.64 997.53v5.3" fill="none" stroke="#000" stroke-width="1.4"/>
<text x="52.22" y="1002.28" font-size="13.2" text-anchor="end">0.0</text>
<text x="52.22" y="950.39" font-size="13.2" text-anchor="end">0.2</text>
<text x="52.22" y="898.5" font-size="13.2" text-anchor="end">0.4</text>
<text x="52.22" y="846.6" font-size="13.2" text-anchor="end">0.6</text>
<text x="52.22" y="794.71" font-size="13.2" text-anchor="end">0.8</text>
<text x="52.22" y="742.82" font-size="13.2" text-anchor="end">1.0</text>
<text transform="translate(104.65 1010.83) scale(1.0 1) rotate(-30)" text-anchor="end" font-size="13">0.0--0.1</text>
<text transform="translate(145.79 1010.83) scale(1.0 1) rotate(-30)" text-anchor="end" font-size="13">0.1--0.2</text>
<text transform="translate(186.92 1010.83) scale(1.0 1) rotate(-30)" text-anchor="end" font-size="13">0.2--0.3</text>
<text transform="translate(228.05 1010.83) scale(1.0 1) rotate(-30)" text-anchor="end" font-size="13">0.3--0.4</text>
<text transform="translate(269.18 1010.83) scale(1.0 1) rotate(-30)" text-anchor="end" font-size="13">0.4--0.5</text>
<text transform="translate(310.31 1010.83) scale(1.0 1) rotate(-30)" text-anchor="end" font-size="13">0.5--0.6</text>
<text transform="translate(351.44 1010.83) scale(1.0 1) rotate(-30)" text-anchor="end" font-size="13">0.6--0.7</text>
<text transform="translate(392.58 1010.83) scale(1.0 1) rotate(-30)" text-anchor="end" font-size="13">0.7--0.8</text>
<text transform="translate(433.71 1010.83) scale(1.0 1) rotate(-30)" text-anchor="end" font-size="13">0.8--0.9</text>
<text transform="translate(474.84 1010.83) scale(1.0 1) rotate(-30)" text-anchor="end" font-size="13">0.9--1.0</text>
<text transform="translate(22.23 865) scale(1.0 1) rotate(-90)" text-anchor="middle" textLength="147.03" lengthAdjust="spacingAndGlyphs" font-size="15.8">Normalized histogram</text>
<text x="229.31" y="1049.6" font-size="14.77" textLength="96.03" lengthAdjust="spacingAndGlyphs">Homogeneity</text>
<rect x="367.06" y="715.17" width="105.56" height="38.16" fill="#fff" stroke="#c4c4c4" stroke-width="1.2"/>
<rect x="371.38" y="717.21" width="35.1" height="16.28" fill="#000"/>
<rect x="371.38" y="736.03" width="35.1" height="16.03" fill="#ff0000"/>
<text x="411.57" y="730.75" font-size="15.2" textLength="26.5" lengthAdjust="spacingAndGlyphs">real</text>
<text x="411.57" y="749.57" font-size="15.2" textLength="55" lengthAdjust="spacingAndGlyphs">random</text>
<text x="262" y="736.8" font-size="14.5" class="sf tt" textLength="99.21" lengthAdjust="spacingAndGlyphs">BGLL_Pathway</text>
<text x="133.55" y="748.05" font-size="41" class="sf lb" textLength="38.66" lengthAdjust="spacingAndGlyphs">B1</text>
</g>
<g>
<path d="M557.06 1000.83v-121h16.6v121zM598.39 1000.83v-29.45h16.6v29.45zM639.73 1000.83v-32.82h16.6v32.82zM681.06 1000.83v-38.32h16.6v38.32zM722.4 1000.83v-39.74h16.6v39.74zM763.73 1000.83v-7.81h16.6v7.81zM805.07 1000.83v-11.36h16.6v11.36zM846.4 1000.83v-8.87h16.6v8.87zM887.74 1000.83v-4.61h16.6v4.61zM929.08 1000.83v-61.32h16.6v61.32z" fill="#000" stroke="#000" stroke-width="0.8"/>
<path d="M573.66 1000.83v-251.06h16.6v251.06zM614.99 1000.83v-33.82h16.6v33.82zM656.33 1000.83v-22.64h16.6v22.64zM697.66 1000.83v-19.52h16.6v19.52zM739 1000.83v-0.71h16.6v0.71zM780.33 1000.83v-27.22h16.6v27.22z" fill="#ff0000" stroke="#1a0000" stroke-width="1.1"/>
<path d="M531.62 1000.83H946.38M532.32 1000.83h-6M532.32 983.09h-3.2M532.32 965.35h-6M532.32 947.61h-3.2M532.32 929.86h-6M532.32 912.12h-3.2M532.32 894.38h-6M532.32 876.64h-3.2M532.32 858.9h-6M532.32 841.15h-3.2M532.32 823.41h-6M532.32 805.67h-3.2M532.32 787.93h-6M532.32 770.18h-3.2M532.32 752.44h-6M532.32 734.7h-3.2M532.32 716.96h-6" fill="none" stroke="#000" stroke-width="1.4"/>
<path d="M532.32 716.26V1000.83M532.32 1000.83v2.9M552.99 1000.83v2.9M573.66 1000.83v5.3M594.32 1000.83v2.9M614.99 1000.83v5.3M635.66 1000.83v2.9M656.33 1000.83v5.3M677 1000.83v2.9M697.66 1000.83v5.3M718.33 1000.83v2.9M739 1000.83v5.3M759.67 1000.83v2.9M780.33 1000.83v5.3M801 1000.83v2.9M821.67 1000.83v5.3M842.34 1000.83v2.9M863 1000.83v5.3M883.67 1000.83v2.9M904.34 1000.83v5.3M925.01 1000.83v2.9M945.68 1000.83v5.3" fill="none" stroke="#000" stroke-width="1.4"/>
<text x="522.22" y="1005.59" font-size="13.2" text-anchor="end">0.0</text>
<text x="522.22" y="970.1" font-size="13.2" text-anchor="end">0.1</text>
<text x="522.22" y="934.62" font-size="13.2" text-anchor="end">0.2</text>
<text x="522.22" y="899.13" font-size="13.2" text-anchor="end">0.3</text>
<text x="522.22" y="863.65" font-size="13.2" text-anchor="end">0.4</text>
<text x="522.22" y="828.16" font-size="13.2" text-anchor="end">0.5</text>
<text x="522.22" y="792.68" font-size="13.2" text-anchor="end">0.6</text>
<text x="522.22" y="757.19" font-size="13.2" text-anchor="end">0.7</text>
<text x="522.22" y="721.71" font-size="13.2" text-anchor="end">0.8</text>
<text transform="translate(576.46 1014.63) scale(1.0 1) rotate(-30)" text-anchor="end" font-size="13">0.0--0.1</text>
<text transform="translate(617.79 1014.63) scale(1.0 1) rotate(-30)" text-anchor="end" font-size="13">0.1--0.2</text>
<text transform="translate(659.13 1014.63) scale(1.0 1) rotate(-30)" text-anchor="end" font-size="13">0.2--0.3</text>
<text transform="translate(700.46 1014.63) scale(1.0 1) rotate(-30)" text-anchor="end" font-size="13">0.3--0.4</text>
<text transform="translate(741.8 1014.63) scale(1.0 1) rotate(-30)" text-anchor="end" font-size="13">0.4--0.5</text>
<text transform="translate(783.13 1014.63) scale(1.0 1) rotate(-30)" text-anchor="end" font-size="13">0.5--0.6</text>
<text transform="translate(824.47 1014.63) scale(1.0 1) rotate(-30)" text-anchor="end" font-size="13">0.6--0.7</text>
<text transform="translate(865.8 1014.63) scale(1.0 1) rotate(-30)" text-anchor="end" font-size="13">0.7--0.8</text>
<text transform="translate(907.14 1014.63) scale(1.0 1) rotate(-30)" text-anchor="end" font-size="13">0.8--0.9</text>
<text transform="translate(948.48 1014.63) scale(1.0 1) rotate(-30)" text-anchor="end" font-size="13">0.9--1.0</text>
<text transform="translate(496.05 868.94) scale(1.0 1) rotate(-90)" text-anchor="middle" textLength="146.26" lengthAdjust="spacingAndGlyphs" font-size="15.8">Normalized histogram</text>
<text x="695.49" y="1050.07" font-size="14.77" textLength="96.79" lengthAdjust="spacingAndGlyphs">Homogeneity</text>
<rect x="837.06" y="721.53" width="107.6" height="37.65" fill="#fff" stroke="#c4c4c4" stroke-width="1.2"/>
<rect x="841.89" y="723.31" width="35.61" height="16.28" fill="#000"/>
<rect x="841.89" y="742.65" width="35.61" height="15.26" fill="#ff0000"/>
<text x="882.59" y="737.11" font-size="15.2" textLength="26.5" lengthAdjust="spacingAndGlyphs">real</text>
<text x="882.59" y="755.67" font-size="15.2" textLength="55" lengthAdjust="spacingAndGlyphs">random</text>
<text x="723.1" y="743.66" font-size="14.5" class="sf tt" textLength="105.56" lengthAdjust="spacingAndGlyphs">IBGLL_Pathway</text>
<text x="602.78" y="750.79" font-size="41" class="sf lb" textLength="40.7" lengthAdjust="spacingAndGlyphs">B2</text>
</g>
<g>
<path d="M1007.83 1001.6v-269.84h16.6v269.84zM1257.82 1001.6v-5.12h16.6v5.12zM1382.82 1001.6v-10.16h16.6v10.16z" fill="#000" stroke="#000" stroke-width="0.8"/>
<path d="M1024.43 1001.6v-279.52h16.6v279.52zM1149.42 1001.6v-4.07h16.6v4.07zM1274.42 1001.6v-0.57h16.6v0.57z" fill="#ff0000" stroke="#1a0000" stroke-width="1.1"/>
<path d="M1002.89 1001.6H1420.95M1003.59 1001.6h-6M1003.59 973.13h-3.2M1003.59 944.67h-6M1003.59 916.21h-3.2M1003.59 887.74h-6M1003.59 859.28h-3.2M1003.59 830.81h-6M1003.59 802.35h-3.2M1003.59 773.88h-6M1003.59 745.42h-3.2M1003.59 716.96h-6" fill="none" stroke="#000" stroke-width="1.4"/>
<path d="M1003.59 716.26V1001.6M1003.59 1001.6v2.9M1024.43 1001.6v5.3M1045.26 1001.6v2.9M1066.09 1001.6v5.3M1086.93 1001.6v2.9M1107.76 1001.6v5.3M1128.59 1001.6v2.9M1149.42 1001.6v5.3M1170.26 1001.6v2.9M1191.09 1001.6v5.3M1211.92 1001.6v2.9M1232.76 1001.6v5.3M1253.59 1001.6v2.9M1274.42 1001.6v5.3M1295.26 1001.6v2.9M1316.09 1001.6v5.3M1336.92 1001.6v2.9M1357.76 1001.6v5.3M1378.59 1001.6v2.9M1399.42 1001.6v5.3M1420.25 1001.6v2.9" fill="none" stroke="#000" stroke-width="1.4"/>
<text x="993.49" y="1006.35" font-size="13.2" text-anchor="end">0.0</text>
<text x="993.49" y="949.42" font-size="13.2" text-anchor="end">0.2</text>
<text x="993.49" y="892.49" font-size="13.2" text-anchor="end">0.4</text>
<text x="993.49" y="835.56" font-size="13.2" text-anchor="end">0.6</text>
<text x="993.49" y="778.64" font-size="13.2" text-anchor="end">0.8</text>
<text x="993.49" y="721.71" font-size="13.2" text-anchor="end">1.0</text>
<text transform="translate(1028.43 1015.2) scale(1.0 1) rotate(-30)" text-anchor="end" font-size="13">0.0--0.1</text>
<text transform="translate(1070.09 1015.2) scale(1.0 1) rotate(-30)" text-anchor="end" font-size="13">0.1--0.2</text>
<text transform="translate(1111.76 1015.2) scale(1.0 1) rotate(-30)" text-anchor="end" font-size="13">0.2--0.3</text>
<text transform="translate(1153.42 1015.2) scale(1.0 1) rotate(-30)" text-anchor="end" font-size="13">0.3--0.4</text>
<text transform="translate(1195.09 1015.2) scale(1.0 1) rotate(-30)" text-anchor="end" font-size="13">0.4--0.5</text>
<text transform="translate(1236.76 1015.2) scale(1.0 1) rotate(-30)" text-anchor="end" font-size="13">0.5--0.6</text>
<text transform="translate(1278.42 1015.2) scale(1.0 1) rotate(-30)" text-anchor="end" font-size="13">0.6--0.7</text>
<text transform="translate(1320.09 1015.2) scale(1.0 1) rotate(-30)" text-anchor="end" font-size="13">0.7--0.8</text>
<text transform="translate(1361.76 1015.2) scale(1.0 1) rotate(-30)" text-anchor="end" font-size="13">0.8--0.9</text>
<text transform="translate(1403.42 1015.2) scale(1.0 1) rotate(-30)" text-anchor="end" font-size="13">0.9--1.0</text>
<text transform="translate(970.37 869.32) scale(1.0 1) rotate(-90)" text-anchor="middle" textLength="147.03" lengthAdjust="spacingAndGlyphs" font-size="15.8">Normalized histogram</text>
<text x="1182.79" y="1050.88" font-size="14.77" textLength="96.03" lengthAdjust="spacingAndGlyphs">Homogeneity</text>
<rect x="1313.67" y="719.5" width="108.33" height="38.16" fill="#fff" stroke="#c4c4c4" stroke-width="1.2"/>
<rect x="1318.25" y="721.53" width="35.61" height="16.03" fill="#000"/>
<rect x="1318.25" y="740.61" width="35.61" height="15.26" fill="#ff0000"/>
<text x="1359.21" y="734.82" font-size="15.2" textLength="26.5" lengthAdjust="spacingAndGlyphs">real</text>
<text x="1359.21" y="753.13" font-size="15.2" textLength="55" lengthAdjust="spacingAndGlyphs">random</text>
<text x="1223.12" y="742.65" font-size="14.5" class="sf tt" textLength="85.72" lengthAdjust="spacingAndGlyphs" font-weight="bold">NS_Pathway</text>
<text x="1062.1" y="748.24" font-size="41" class="sf lb" textLength="40.19" lengthAdjust="spacingAndGlyphs">B3</text>
</g>
<g>
<path d="M1507.9 997.53v-212.9h16.6v212.9zM1548.8 997.53v-5.61h16.6v5.61zM1589.7 997.53v-5.61h16.6v5.61zM1630.61 997.53v-5.61h16.6v5.61zM1671.51 997.53v-6.87h16.6v6.87zM1712.41 997.53v-1.68h16.6v1.68zM1753.31 997.53v-6.87h16.6v6.87zM1794.22 997.53v-11.21h16.6v11.21zM1835.12 997.53v-3.08h16.6v3.08zM1876.02 997.53v-24.11h16.6v24.11z" fill="#000" stroke="#000" stroke-width="0.8"/>
<path d="M1524.5 997.53v-251.59h16.6v251.59zM1565.4 997.53v-9.67h16.6v9.67zM1606.3 997.53v-8.41h16.6v8.41zM1647.21 997.53v-1.68h16.6v1.68zM1729.01 997.53v-9.42h16.6v9.42z" fill="#ff0000" stroke="#1a0000" stroke-width="1.1"/>
<path d="M1482.89 997.53H1893.32M1483.59 997.53h-6M1483.59 969.5h-3.2M1483.59 941.46h-6M1483.59 913.43h-3.2M1483.59 885.4h-6M1483.59 857.37h-3.2M1483.59 829.34h-6M1483.59 801.31h-3.2M1483.59 773.27h-6M1483.59 745.24h-3.2M1483.59 717.21h-6" fill="none" stroke="#000" stroke-width="1.4"/>
<path d="M1483.59 716.51V997.53M1483.59 997.53v2.9M1504.04 997.53v2.9M1524.5 997.53v5.3M1544.95 997.53v2.9M1565.4 997.53v5.3M1585.85 997.53v2.9M1606.3 997.53v5.3M1626.75 997.53v2.9M1647.21 997.53v5.3M1667.66 997.53v2.9M1688.11 997.53v5.3M1708.56 997.53v2.9M1729.01 997.53v5.3M1749.46 997.53v2.9M1769.91 997.53v5.3M1790.37 997.53v2.9M1810.82 997.53v5.3M1831.27 997.53v2.9M1851.72 997.53v5.3M1872.17 997.53v2.9M1892.62 997.53v5.3" fill="none" stroke="#000" stroke-width="1.4"/>
<text x="1473.49" y="1002.28" font-size="13.2" text-anchor="end">0.0</text>
<text x="1473.49" y="946.22" font-size="13.2" text-anchor="end">0.2</text>
<text x="1473.49" y="890.15" font-size="13.2" text-anchor="end">0.4</text>
<text x="1473.49" y="834.09" font-size="13.2" text-anchor="end">0.6</text>
<text x="1473.49" y="778.03" font-size="13.2" text-anchor="end">0.8</text>
<text x="1473.49" y="721.96" font-size="13.2" text-anchor="end">1.0</text>
<text transform="translate(1526.8 1012.53) scale(1.0 1) rotate(-30)" text-anchor="end" font-size="13">0.0--0.1</text>
<text transform="translate(1567.7 1012.53) scale(1.0 1) rotate(-30)" text-anchor="end" font-size="13">0.1--0.2</text>
<text transform="translate(1608.6 1012.53) scale(1.0 1) rotate(-30)" text-anchor="end" font-size="13">0.2--0.3</text>
<text transform="translate(1649.51 1012.53) scale(1.0 1) rotate(-30)" text-anchor="end" font-size="13">0.3--0.4</text>
<text transform="translate(1690.41 1012.53) scale(1.0 1) rotate(-30)" text-anchor="end" font-size="13">0.4--0.5</text>
<text transform="translate(1731.31 1012.53) scale(1.0 1) rotate(-30)" text-anchor="end" font-size="13">0.5--0.6</text>
<text transform="translate(1772.21 1012.53) scale(1.0 1) rotate(-30)" text-anchor="end" font-size="13">0.6--0.7</text>
<text transform="translate(1813.12 1012.53) scale(1.0 1) rotate(-30)" text-anchor="end" font-size="13">0.7--0.8</text>
<text transform="translate(1854.02 1012.53) scale(1.0 1) rotate(-30)" text-anchor="end" font-size="13">0.8--0.9</text>
<text transform="translate(1894.92 1012.53) scale(1.0 1) rotate(-30)" text-anchor="end" font-size="13">0.9--1.0</text>
<text transform="translate(1444.78 867.42) scale(1.0 1) rotate(-90)" text-anchor="middle" textLength="145.76" lengthAdjust="spacingAndGlyphs" font-size="15.8">Normalized histogram</text>
<text x="1655.16" y="1049.67" font-size="14.77" textLength="95.26" lengthAdjust="spacingAndGlyphs">Homogeneity</text>
<rect x="1789.35" y="718.99" width="105.06" height="36.88" fill="#fff" stroke="#c4c4c4" stroke-width="1.2"/>
<rect x="1793.93" y="720.77" width="34.85" height="16.03" fill="#000"/>
<rect x="1793.93" y="739.34" width="34.85" height="14.75" fill="#ff0000"/>
<text x="1834.12" y="733.54" font-size="15.2" textLength="26.5" lengthAdjust="spacingAndGlyphs">real</text>
<text x="1834.12" y="751.86" font-size="15.2" textLength="55" lengthAdjust="spacingAndGlyphs">random</text>
<text x="1690.91" y="743.66" font-size="14.5" class="sf tt" textLength="92.85" lengthAdjust="spacingAndGlyphs">RAK_Pathway</text>
<text x="1552.27" y="748.75" font-size="41" class="sf lb" textLength="40.7" lengthAdjust="spacingAndGlyphs">B4</text>
</g>
<g>
<path d="M75.38 1353.55v-210.46h22.65v210.46zM131.29 1353.55v-5.27h22.65v5.27zM187.21 1353.55v-2.93h22.65v2.93zM243.12 1353.55v-4.1h22.65v4.1zM299.04 1353.55v-12h22.65v12zM354.95 1353.55v-1.76h22.65v1.76zM410.87 1353.55v-2.93h22.65v2.93zM466.79 1353.55v-5.27h22.65v5.27zM522.7 1353.55v-2.05h22.65v2.05zM578.62 1353.55v-46.54h22.65v46.54z" fill="#000" stroke="#000" stroke-width="0.8"/>
<path d="M98.02 1353.55v-254.66h22.65v254.66zM153.94 1353.55v-9.37h22.65v9.37zM209.85 1353.55v-8.78h22.65v8.78zM265.77 1353.55v-4.68h22.65v4.68zM377.6 1353.55v-15.22h22.65v15.22z" fill="#ff0000" stroke="#1a0000" stroke-width="1.1"/>
<path d="M69.08 1353.55H630.21M70.06 1353.55h-8.04M70.06 1324.28h-4.29M70.06 1295h-8.04M70.06 1265.73h-4.29M70.06 1236.46h-8.04M70.06 1207.19h-4.29M70.06 1177.92h-8.04M70.06 1148.65h-4.29M70.06 1119.37h-8.04M70.06 1090.1h-4.29M70.06 1060.83h-8.04" fill="none" stroke="#000" stroke-width="1.4"/>
<path d="M70.06 1060.13V1353.55M70.06 1353.55v2.9M98.02 1353.55v5.3M125.98 1353.55v2.9M153.94 1353.55v5.3M181.89 1353.55v2.9M209.85 1353.55v5.3M237.81 1353.55v2.9M265.77 1353.55v5.3M293.73 1353.55v2.9M321.68 1353.55v5.3M349.64 1353.55v2.9M377.6 1353.55v5.3M405.56 1353.55v2.9M433.52 1353.55v5.3M461.47 1353.55v2.9M489.43 1353.55v5.3M517.39 1353.55v2.9M545.35 1353.55v5.3M573.31 1353.55v2.9M601.26 1353.55v5.3M629.22 1353.55v2.9" fill="none" stroke="#000" stroke-width="1.97"/>
<text transform="translate(56.53 1358.3) scale(1.29 1)" text-anchor="end" font-size="13.2">0.0</text>
<text transform="translate(56.53 1299.76) scale(1.29 1)" text-anchor="end" font-size="13.2">0.2</text>
<text transform="translate(56.53 1241.21) scale(1.29 1)" text-anchor="end" font-size="13.2">0.4</text>
<text transform="translate(56.53 1182.67) scale(1.29 1)" text-anchor="end" font-size="13.2">0.6</text>
<text transform="translate(56.53 1124.13) scale(1.29 1)" text-anchor="end" font-size="13.2">0.8</text>
<text transform="translate(56.53 1065.58) scale(1.29 1)" text-anchor="end" font-size="13.2">1.0</text>
<text transform="translate(102.72 1366.55) scale(1.34 1) rotate(-30)" text-anchor="end" font-size="13">0.0--0.1</text>
<text transform="translate(158.64 1366.55) scale(1.34 1) rotate(-30)" text-anchor="end" font-size="13">0.1--0.2</text>
<text transform="translate(214.55 1366.55) scale(1.34 1) rotate(-30)" text-anchor="end" font-size="13">0.2--0.3</text>
<text transform="translate(270.47 1366.55) scale(1.34 1) rotate(-30)" text-anchor="end" font-size="13">0.3--0.4</text>
<text transform="translate(326.38 1366.55) scale(1.34 1) rotate(-30)" text-anchor="end" font-size="13">0.4--0.5</text>
<text transform="translate(382.3 1366.55) scale(1.34 1) rotate(-30)" text-anchor="end" font-size="13">0.5--0.6</text>
<text transform="translate(438.22 1366.55) scale(1.34 1) rotate(-30)" text-anchor="end" font-size="13">0.6--0.7</text>
<text transform="translate(494.13 1366.55) scale(1.34 1) rotate(-30)" text-anchor="end" font-size="13">0.7--0.8</text>
<text transform="translate(550.05 1366.55) scale(1.34 1) rotate(-30)" text-anchor="end" font-size="13">0.8--0.9</text>
<text transform="translate(605.96 1366.55) scale(1.34 1) rotate(-30)" text-anchor="end" font-size="13">0.9--1.0</text>
<text transform="translate(24.24 1217.29) scale(1.34 1) rotate(-90)" text-anchor="middle" textLength="150.57" lengthAdjust="spacingAndGlyphs" font-size="15.8">Normalized histogram</text>
<text x="290.16" y="1403.74" font-size="14.77" textLength="129.88" lengthAdjust="spacingAndGlyphs">Homogeneity</text>
<rect x="479.66" y="1059.48" width="144.51" height="39.41" fill="#fff" stroke="#c4c4c4" stroke-width="1.2"/>
<rect x="485.39" y="1061.84" width="48.51" height="16.17" fill="#000"/>
<rect x="485.39" y="1081.38" width="48.51" height="15.49" fill="#ff0000"/>
<text x="540.63" y="1075.12" font-size="15.2" textLength="35.51" lengthAdjust="spacingAndGlyphs">real</text>
<text x="540.63" y="1094.32" font-size="15.2" textLength="73.7" lengthAdjust="spacingAndGlyphs">random</text>
<text x="350.32" y="1084.75" font-size="14.5" class="sf tt" textLength="123.62" lengthAdjust="spacingAndGlyphs" font-weight="bold">WT_Pathway</text>
<text x="129.68" y="1097.88" font-size="41" class="sf lb" textLength="43.79" lengthAdjust="spacingAndGlyphs">B5</text>
</g>
<g>
<path d="M742.43 1354.18v-91.35h22.31v91.35zM797.33 1354.18v-14.84h22.31v14.84zM852.24 1354.18v-25.82h22.31v25.82zM907.14 1354.18v-81.96h22.31v81.96zM962.05 1354.18v-155.12h22.31v155.12zM1016.96 1354.18v-4.69h22.31v4.69zM1071.86 1354.18v-26.28h22.31v26.28zM1126.77 1354.18v-8.8h22.31v8.8zM1181.67 1354.18v-2.05h22.31v2.05zM1236.58 1354.18v-175.66h22.31v175.66z" fill="#000" stroke="#000" stroke-width="0.8"/>
<path d="M764.74 1354.18v-256.98h22.31v256.98zM819.64 1354.18v-25.82h22.31v25.82zM874.55 1354.18v-50.93h22.31v50.93zM929.45 1354.18v-90.35h22.31v90.35zM984.36 1354.18v-2.35h22.31v2.35zM1039.26 1354.18v-152.72h22.31v152.72zM1094.17 1354.18v-5.87h22.31v5.87z" fill="#ff0000" stroke="#1a0000" stroke-width="1.1"/>
<path d="M708.86 1354.18H1259.85M709.83 1354.18h-7.92M709.83 1324.85h-4.22M709.83 1295.51h-7.92M709.83 1266.18h-4.22M709.83 1236.84h-7.92M709.83 1207.51h-4.22M709.83 1178.17h-7.92M709.83 1148.84h-4.22M709.83 1119.5h-7.92M709.83 1090.17h-4.22M709.83 1060.83h-7.92" fill="none" stroke="#000" stroke-width="1.4"/>
<path d="M709.83 1060.13V1354.18M709.83 1354.18v2.9M737.28 1354.18v2.9M764.74 1354.18v5.3M792.19 1354.18v2.9M819.64 1354.18v5.3M847.09 1354.18v2.9M874.55 1354.18v5.3M902 1354.18v2.9M929.45 1354.18v5.3M956.91 1354.18v2.9M984.36 1354.18v5.3M1011.81 1354.18v2.9M1039.26 1354.18v5.3M1066.72 1354.18v2.9M1094.17 1354.18v5.3M1121.62 1354.18v2.9M1149.07 1354.18v5.3M1176.53 1354.18v2.9M1203.98 1354.18v5.3M1231.43 1354.18v2.9M1258.88 1354.18v5.3" fill="none" stroke="#000" stroke-width="1.94"/>
<text transform="translate(696.5 1358.94) scale(1.27 1)" text-anchor="end" font-size="13.2">0.0</text>
<text transform="translate(696.5 1300.27) scale(1.27 1)" text-anchor="end" font-size="13.2">0.1</text>
<text transform="translate(696.5 1241.6) scale(1.27 1)" text-anchor="end" font-size="13.2">0.2</text>
<text transform="translate(696.5 1182.92) scale(1.27 1)" text-anchor="end" font-size="13.2">0.3</text>
<text transform="translate(696.5 1124.25) scale(1.27 1)" text-anchor="end" font-size="13.2">0.4</text>
<text transform="translate(696.5 1065.58) scale(1.27 1)" text-anchor="end" font-size="13.2">0.5</text>
<text transform="translate(768.84 1369.48) scale(1.32 1) rotate(-30)" text-anchor="end" font-size="13">0.0--0.1</text>
<text transform="translate(823.74 1369.48) scale(1.32 1) rotate(-30)" text-anchor="end" font-size="13">0.1--0.2</text>
<text transform="translate(878.65 1369.48) scale(1.32 1) rotate(-30)" text-anchor="end" font-size="13">0.2--0.3</text>
<text transform="translate(933.55 1369.48) scale(1.32 1) rotate(-30)" text-anchor="end" font-size="13">0.3--0.4</text>
<text transform="translate(988.46 1369.48) scale(1.32 1) rotate(-30)" text-anchor="end" font-size="13">0.4--0.5</text>
<text transform="translate(1043.36 1369.48) scale(1.32 1) rotate(-30)" text-anchor="end" font-size="13">0.5--0.6</text>
<text transform="translate(1098.27 1369.48) scale(1.32 1) rotate(-30)" text-anchor="end" font-size="13">0.6--0.7</text>
<text transform="translate(1153.17 1369.48) scale(1.32 1) rotate(-30)" text-anchor="end" font-size="13">0.7--0.8</text>
<text transform="translate(1208.08 1369.48) scale(1.32 1) rotate(-30)" text-anchor="end" font-size="13">0.8--0.9</text>
<text transform="translate(1262.98 1369.48) scale(1.32 1) rotate(-30)" text-anchor="end" font-size="13">0.9--1.0</text>
<text transform="translate(656.94 1217.97) scale(1.32 1) rotate(-90)" text-anchor="middle" textLength="150.57" lengthAdjust="spacingAndGlyphs" font-size="15.8">Normalized histogram</text>
<text x="914.45" y="1403.74" font-size="14.77" textLength="127.83" lengthAdjust="spacingAndGlyphs">Homogeneity</text>
<rect x="1117.75" y="1066.22" width="140.8" height="38.74" fill="#fff" stroke="#c4c4c4" stroke-width="1.2"/>
<rect x="1123.47" y="1067.91" width="47.16" height="16.51" fill="#000"/>
<rect x="1123.47" y="1087.11" width="47.16" height="15.83" fill="#ff0000"/>
<text x="1177.37" y="1081.18" font-size="15.2" textLength="34.98" lengthAdjust="spacingAndGlyphs">real</text>
<text x="1177.37" y="1100.38" font-size="15.2" textLength="72.6" lengthAdjust="spacingAndGlyphs">random</text>
<text x="1000.53" y="1092.16" font-size="14.5" class="sf tt" textLength="108.46" lengthAdjust="spacingAndGlyphs">LC_Pathway</text>
<text x="798.42" y="1097.21" font-size="41" class="sf lb" textLength="43.79" lengthAdjust="spacingAndGlyphs">B6</text>
</g>
<g>
<path d="M1359.73 1355.56v-153.11h22.98v153.11zM1416.08 1355.56v-1.36h22.98v1.36zM1472.43 1355.56v-2.36h22.98v2.36zM1528.79 1355.56v-11.49h22.98v11.49zM1585.14 1355.56v-33.78h22.98v33.78zM1641.5 1355.56v-5.42h22.98v5.42zM1697.85 1355.56v-11.05h22.98v11.05zM1754.2 1355.56v-8.47h22.98v8.47zM1810.56 1355.56v-3.32h22.98v3.32zM1866.91 1355.56v-137.56h22.98v137.56z" fill="#000" stroke="#000" stroke-width="0.8"/>
<path d="M1382.71 1355.56v-266.69h22.98v266.69zM1439.07 1355.56v-14.52h22.98v14.52zM1495.42 1355.56v-17.24h22.98v17.24zM1551.77 1355.56v-21.29h22.98v21.29zM1608.13 1355.56v-0.37h22.98v0.37zM1664.48 1355.56v-46.64h22.98v46.64zM1720.83 1355.56v-0.37h22.98v0.37z" fill="#ff0000" stroke="#1a0000" stroke-width="1.1"/>
<path d="M1325.36 1355.56H1890.89M1326.36 1355.56h-8.16M1326.36 1337.14h-4.35M1326.36 1318.72h-8.16M1326.36 1300.3h-4.35M1326.36 1281.88h-8.16M1326.36 1263.46h-4.35M1326.36 1245.04h-8.16M1326.36 1226.62h-4.35M1326.36 1208.19h-8.16M1326.36 1189.77h-4.35M1326.36 1171.35h-8.16M1326.36 1152.93h-4.35M1326.36 1134.51h-8.16M1326.36 1116.09h-4.35M1326.36 1097.67h-8.16M1326.36 1079.25h-4.35M1326.36 1060.83h-8.16" fill="none" stroke="#000" stroke-width="1.4"/>
<path d="M1326.36 1060.13V1355.56M1326.36 1355.56v2.9M1354.53 1355.56v2.9M1382.71 1355.56v5.3M1410.89 1355.56v2.9M1439.07 1355.56v5.3M1467.24 1355.56v2.9M1495.42 1355.56v5.3M1523.6 1355.56v2.9M1551.77 1355.56v5.3M1579.95 1355.56v2.9M1608.13 1355.56v5.3M1636.3 1355.56v2.9M1664.48 1355.56v5.3M1692.66 1355.56v2.9M1720.83 1355.56v5.3M1749.01 1355.56v2.9M1777.19 1355.56v5.3M1805.36 1355.56v2.9M1833.54 1355.56v5.3M1861.72 1355.56v2.9M1889.89 1355.56v5.3" fill="none" stroke="#000" stroke-width="2"/>
<text transform="translate(1312.62 1360.31) scale(1.31 1)" text-anchor="end" font-size="13.2">0.0</text>
<text transform="translate(1312.62 1323.47) scale(1.31 1)" text-anchor="end" font-size="13.2">0.1</text>
<text transform="translate(1312.62 1286.63) scale(1.31 1)" text-anchor="end" font-size="13.2">0.2</text>
<text transform="translate(1312.62 1249.79) scale(1.31 1)" text-anchor="end" font-size="13.2">0.3</text>
<text transform="translate(1312.62 1212.95) scale(1.31 1)" text-anchor="end" font-size="13.2">0.4</text>
<text transform="translate(1312.62 1176.11) scale(1.31 1)" text-anchor="end" font-size="13.2">0.5</text>
<text transform="translate(1312.62 1139.27) scale(1.31 1)" text-anchor="end" font-size="13.2">0.6</text>
<text transform="translate(1312.62 1102.42) scale(1.31 1)" text-anchor="end" font-size="13.2">0.7</text>
<text transform="translate(1312.62 1065.58) scale(1.31 1)" text-anchor="end" font-size="13.2">0.8</text>
<text transform="translate(1386.15 1370.26) scale(1.36 1) rotate(-30)" text-anchor="end" font-size="13">0.0--0.1</text>
<text transform="translate(1442.51 1370.26) scale(1.36 1) rotate(-30)" text-anchor="end" font-size="13">0.1--0.2</text>
<text transform="translate(1498.86 1370.26) scale(1.36 1) rotate(-30)" text-anchor="end" font-size="13">0.2--0.3</text>
<text transform="translate(1555.21 1370.26) scale(1.36 1) rotate(-30)" text-anchor="end" font-size="13">0.3--0.4</text>
<text transform="translate(1611.57 1370.26) scale(1.36 1) rotate(-30)" text-anchor="end" font-size="13">0.4--0.5</text>
<text transform="translate(1667.92 1370.26) scale(1.36 1) rotate(-30)" text-anchor="end" font-size="13">0.5--0.6</text>
<text transform="translate(1724.27 1370.26) scale(1.36 1) rotate(-30)" text-anchor="end" font-size="13">0.6--0.7</text>
<text transform="translate(1780.63 1370.26) scale(1.36 1) rotate(-30)" text-anchor="end" font-size="13">0.7--0.8</text>
<text transform="translate(1836.98 1370.26) scale(1.36 1) rotate(-30)" text-anchor="end" font-size="13">0.8--0.9</text>
<text transform="translate(1893.33 1370.26) scale(1.36 1) rotate(-30)" text-anchor="end" font-size="13">0.9--1.0</text>
<text transform="translate(1286.71 1216.28) scale(1.36 1) rotate(-90)" text-anchor="middle" textLength="125.64" lengthAdjust="spacingAndGlyphs" font-size="13">Normalized histogram</text>
<text x="1564.29" y="1405.65" font-size="12.62" textLength="109.02" lengthAdjust="spacingAndGlyphs">Homogeneity</text>
<rect x="1738.65" y="1075.32" width="145.18" height="39.75" fill="#fff" stroke="#c4c4c4" stroke-width="1.2"/>
<rect x="1744.38" y="1077.67" width="48.51" height="16.51" fill="#000"/>
<rect x="1744.38" y="1097.21" width="48.51" height="15.83" fill="#ff0000"/>
<text x="1799.96" y="1091.28" font-size="15.2" textLength="36.04" lengthAdjust="spacingAndGlyphs">real</text>
<text x="1799.96" y="1109.81" font-size="15.2" textLength="74.8" lengthAdjust="spacingAndGlyphs">random</text>
<text x="1616.38" y="1098.22" font-size="14.5" class="sf tt" textLength="115.2" lengthAdjust="spacingAndGlyphs">CO_Pathway</text>
<text x="1414.95" y="1098.22" font-size="41" class="sf lb" textLength="43.79" lengthAdjust="spacingAndGlyphs">B7</text>
</g>
</svg>
</body>
</html>
